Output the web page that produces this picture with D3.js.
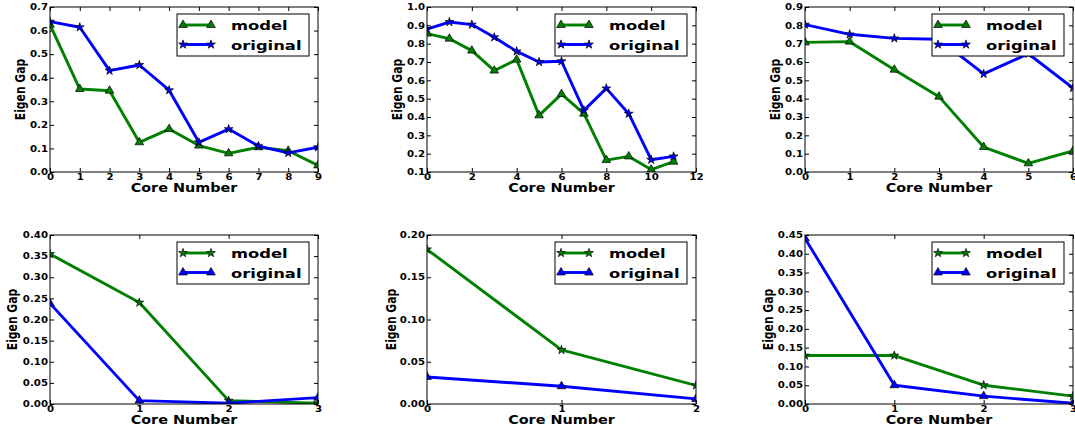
<!DOCTYPE html>
<html>
<head>
    <style>
        body { margin: 0; background: #fff; }
        text { font-family: "DejaVu Sans", sans-serif; font-weight: bold; fill: #000; }
    </style>
</head>
<body>
    <div id="chart"></div>
    <script src="https://cdnjs.cloudflare.com/ajax/libs/d3/7.8.5/d3.min.js"></script>
    <script>
        // values
        const cores1 = [0, 1, 2, 3, 4, 5, 6, 7, 8, 9];
        const model1 = [0.625, 0.352, 0.345, 0.126, 0.182, 0.112, 0.079, 0.105, 0.09, 0.028];
        const original1 = [0.638, 0.614, 0.43, 0.454, 0.347, 0.126, 0.182, 0.11, 0.081, 0.105];

        const cores2 = [0, 1, 2, 3, 4, 5, 6, 7, 8, 9, 10, 11];
        const model2 = [0.855, 0.827, 0.762, 0.653, 0.713, 0.409, 0.525, 0.418, 0.165, 0.185, 0.113, 0.156];
        const original2 = [0.88, 0.918, 0.904, 0.835, 0.758, 0.70, 0.704, 0.436, 0.556, 0.418, 0.167, 0.185];

        const cores3 = [0, 1, 2, 3, 4, 5, 6];
        const model3 = [0.707, 0.711, 0.558, 0.411, 0.136, 0.047, 0.115];
        const original3 = [0.804, 0.751, 0.729, 0.724, 0.535, 0.645, 0.458];

        const cores4 = [0, 1, 2, 3];
        const model4 = [0.355, 0.24, 0.008, 0.002];
        const original4 = [0.238, 0.008, 0.002, 0.015];

        const cores5 = [0, 1, 2];
        const model5 = [0.183, 0.064, 0.022];
        const original5 = [0.032, 0.021, 0.006];

        const cores6 = [0, 1, 2, 3];
        const model6 = [0.129, 0.129, 0.05, 0.021];
        const original6 = [0.441, 0.05, 0.021, 0.002];

        // tick labels
        const xTicks1 = [0, 1, 2, 3, 4, 5, 6, 7, 8, 9];
        const xTicks2 = [0, 2, 4, 6, 8, 10, 12];
        const xTicks3 = [0, 1, 2, 3, 4, 5, 6];
        const xTicks4 = [0, 1, 2, 3];
        const xTicks5 = [0, 1, 2];
        const xTicks6 = [0, 1, 2, 3];
        const yTicks1 = [0.0, 0.1, 0.2, 0.3, 0.4, 0.5, 0.6, 0.7];
        const yTicks2 = [0.1, 0.2, 0.3, 0.4, 0.5, 0.6, 0.7, 0.8, 0.9, 1.0];
        const yTicks3 = [0.0, 0.1, 0.2, 0.3, 0.4, 0.5, 0.6, 0.7, 0.8, 0.9];
        const yTicks4 = [0.0, 0.05, 0.10, 0.15, 0.20, 0.25, 0.30, 0.35, 0.40];
        const yTicks5 = [0.0, 0.05, 0.10, 0.15, 0.20];
        const yTicks6 = [0.0, 0.05, 0.10, 0.15, 0.20, 0.25, 0.30, 0.35, 0.40, 0.45];

        const GREEN = "#008000", BLUE = "#0000ff";
        const star = d3.symbol().type(d3.symbolStar).size(24);
        const tri = d3.symbol().type(d3.symbolTriangle).size(32);

        // top row: model = triangles, original = stars; bottom row swapped
        const panels = [
            { left: 50, right: 318, top: 7, bottom: 172, x: cores1, m: model1, o: original1, xt: xTicks1, yt: yTicks1, yfmt: ".1f", ylab: -25, mSym: tri, oSym: star },
            { left: 427, right: 696, top: 7, bottom: 172, x: cores2, m: model2, o: original2, xt: xTicks2, yt: yTicks2, yfmt: ".1f", ylab: -25, mSym: tri, oSym: star },
            { left: 805, right: 1073, top: 7, bottom: 172, x: cores3, m: model3, o: original3, xt: xTicks3, yt: yTicks3, yfmt: ".1f", ylab: -25, mSym: tri, oSym: star },
            { left: 50, right: 318, top: 235, bottom: 404, x: cores4, m: model4, o: original4, xt: xTicks4, yt: yTicks4, yfmt: ".2f", ylab: -33, mSym: star, oSym: tri },
            { left: 427, right: 696, top: 235, bottom: 404, x: cores5, m: model5, o: original5, xt: xTicks5, yt: yTicks5, yfmt: ".2f", ylab: -31, mSym: star, oSym: tri },
            { left: 805, right: 1073, top: 235, bottom: 404, x: cores6, m: model6, o: original6, xt: xTicks6, yt: yTicks6, yfmt: ".2f", ylab: -32, mSym: star, oSym: tri }
        ];

        const svg = d3.select("#chart").append("svg")
            .attr("width", 1075)
            .attr("height", 428);

        panels.forEach((p, i) => {
            const w = p.right - p.left, h = p.bottom - p.top;
            const g = svg.append("g").attr("transform", `translate(${p.left},${p.top})`);

            const x = d3.scaleLinear().domain([p.xt[0], p.xt[p.xt.length - 1]]).range([0, w]);
            const y = d3.scaleLinear().domain([p.yt[0], p.yt[p.yt.length - 1]]).range([h, 0]);

            g.append("clipPath").attr("id", "clip" + i)
                .append("rect").attr("width", w).attr("height", h);

            // axes, ticks pointing inward on all four sides
            const bx = g.append("g").attr("transform", `translate(0,${h})`)
                .call(d3.axisBottom(x).tickValues(p.xt).tickFormat(d3.format("d")).tickSizeInner(-4).tickSizeOuter(0).tickPadding(2));
            const ly = g.append("g")
                .call(d3.axisLeft(y).tickValues(p.yt).tickFormat(d3.format(p.yfmt)).tickSizeInner(-4).tickSizeOuter(0).tickPadding(2));
            g.append("g")
                .call(d3.axisTop(x).tickValues(p.xt).tickFormat("").tickSizeInner(-4).tickSizeOuter(0));
            g.append("g").attr("transform", `translate(${w},0)`)
                .call(d3.axisRight(y).tickValues(p.yt).tickFormat("").tickSizeInner(-4).tickSizeOuter(0));
            g.selectAll(".domain").remove();
            g.selectAll(".tick line").attr("stroke", "#000");

            bx.selectAll("text")
                .attr("font-size", 8.5).attr("font-family", null).attr("fill", "#000")
                .attr("transform", "scale(1.2,1)");
            ly.selectAll("text")
                .attr("font-size", 8.5).attr("font-family", null).attr("fill", "#000")
                .attr("x", -2 / 1.2)
                .attr("transform", "scale(1.2,1)");

            // series
            const plot = g.append("g").attr("clip-path", `url(#clip${i})`);
            const series = [
                { vals: p.m, color: GREEN, sym: p.mSym },
                { vals: p.o, color: BLUE, sym: p.oSym }
            ];
            const line = d3.line().x(d => x(d[0])).y(d => y(d[1]));
            series.forEach(s => {
                const pts = p.x.map((c, k) => [c, s.vals[k]]);
                plot.append("path").datum(pts)
                    .attr("d", line)
                    .attr("fill", "none")
                    .attr("stroke", s.color)
                    .attr("stroke-width", 2.9)
                    .attr("stroke-linejoin", "round");
                plot.selectAll(null).data(pts).join("path")
                    .attr("transform", d => `translate(${x(d[0])},${y(d[1])})`)
                    .attr("d", s.sym())
                    .attr("fill", s.color)
                    .attr("stroke", "#000")
                    .attr("stroke-width", 0.7);
            });

            // frame
            g.append("rect").attr("width", w).attr("height", h)
                .attr("fill", "none").attr("stroke", "#000").attr("stroke-width", 1);

            // axis labels
            g.append("text")
                .attr("transform", `translate(${w / 2},${h + 20}) scale(1.18,1)`)
                .attr("text-anchor", "middle")
                .attr("font-size", 12.2)
                .text("Core Number");
            g.append("text")
                .attr("transform", `translate(${p.ylab},${h / 2}) scale(1.3,1) rotate(-90)`)
                .attr("text-anchor", "middle")
                .attr("font-size", 10.8)
                .text("Eigen Gap");

            // legend
            const lg = g.append("g").attr("transform", `translate(${w - 9 - 132},7)`);
            lg.append("rect").attr("width", 132).attr("height", 42)
                .attr("fill", "#fff").attr("stroke", "#000").attr("stroke-width", 1);
            const legItems = [
                { name: "model", color: GREEN, sym: p.mSym },
                { name: "original", color: BLUE, sym: p.oSym }
            ];
            legItems.forEach((it, k) => {
                const ry = 11 + k * 19.5;
                lg.append("line").attr("x1", 6).attr("x2", 34).attr("y1", ry).attr("y2", ry)
                    .attr("stroke", it.color).attr("stroke-width", 2.9);
                [6, 34].forEach(mx => {
                    lg.append("path")
                        .attr("transform", `translate(${mx},${ry})`)
                        .attr("d", it.sym())
                        .attr("fill", it.color)
                        .attr("stroke", "#000")
                        .attr("stroke-width", 0.7);
                });
                lg.append("text")
                    .attr("transform", `translate(54,${ry + 5}) scale(1.26,1)`)
                    .attr("font-size", 13)
                    .text(it.name);
            });
        });
    </script>
</body>
</html>
